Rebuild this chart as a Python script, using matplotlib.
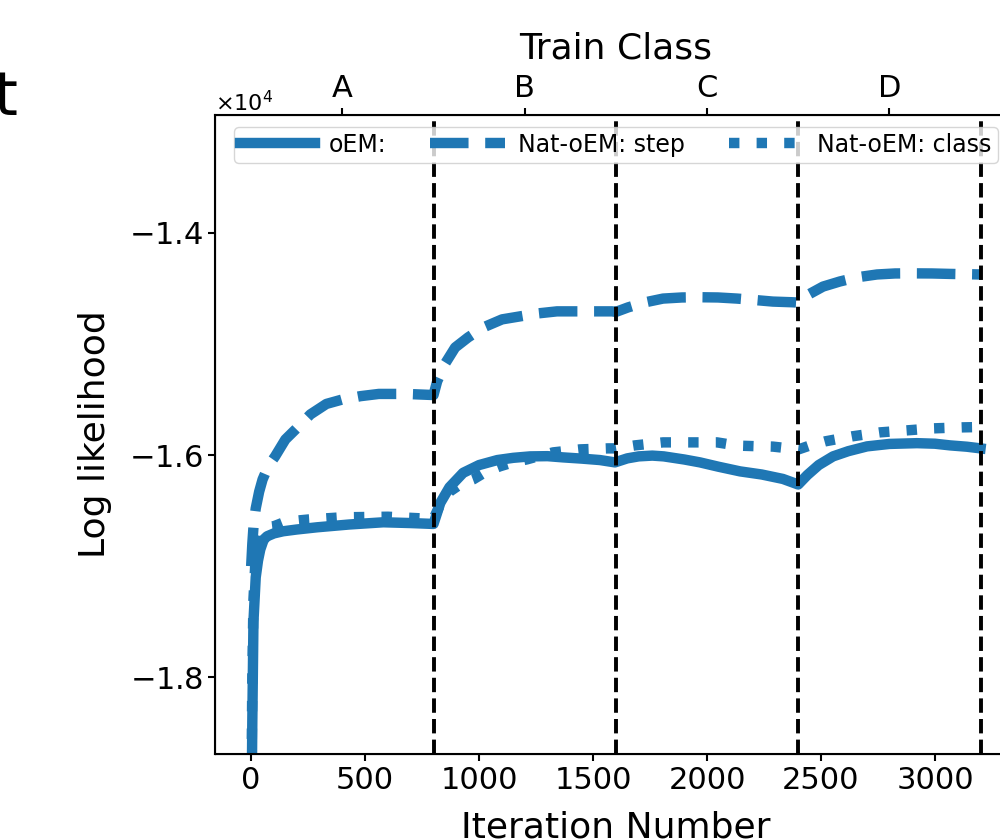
import matplotlib
matplotlib.use("Agg")
import matplotlib.pyplot as plt

plt.rcParams['font.family'] = ['DejaVu Sans']

# Data
oem_x = [0, 5, 10, 20, 30, 40, 55, 70, 100, 140, 200, 290, 430, 580, 700, 800,
         830, 870, 930, 1000, 1080, 1150, 1224, 1300, 1368, 1450, 1530, 1596,
         1650, 1700, 1760, 1810, 1900, 1969, 2050, 2145, 2240, 2333, 2400,
         2440, 2490, 2553, 2620, 2702, 2800, 2921, 3000, 3066, 3140, 3200]
oem_y = [-19600, -18400, -17500, -17100, -16950, -16850, -16760, -16731, -16705, -16686,
         -16670, -16650, -16625, -16605, -16612, -16620,
         -16430, -16290, -16160, -16090, -16045, -16025, -16012, -16010, -16021, -16032,
         -16045, -16066,
         -16030, -16012, -16005, -16012, -16040, -16066, -16105, -16147, -16175, -16215,
         -16265,
         -16180, -16090, -16012, -15965, -15922, -15900, -15893, -15898, -15913, -15925,
         -15940]

step_x = [0, 5, 10, 20, 35, 50, 75, 105, 150, 195, 260, 330, 400, 480, 560, 680, 800,
          816, 850, 895, 952, 1020, 1101, 1180, 1260, 1342, 1450, 1583, 1600,
          1654, 1730, 1807, 1890, 1970, 2048, 2132, 2210, 2289, 2373, 2400,
          2450, 2509, 2583, 2660, 2746, 2825, 2900, 2987, 3066, 3200]
step_y = [-17000, -16800, -16650, -16480, -16330, -16220, -16100, -16012, -15860, -15769,
          -15634, -15540, -15500, -15470, -15450, -15450, -15460,
          -15337, -15180, -15032, -14941, -14850, -14779, -14752, -14725, -14707, -14707,
          -14707, -14712,
          -14671, -14625, -14592, -14582, -14580, -14582, -14592, -14605, -14619, -14625,
          -14628,
          -14550, -14484, -14438, -14400, -14375, -14366, -14365, -14366, -14370, -14375]

class_x = [0, 5, 10, 20, 40, 60, 100, 150, 250, 400, 600, 800,
           830, 870, 920, 975, 1030, 1092, 1150, 1210, 1270, 1325, 1443, 1566, 1600,
           1684, 1807, 1925, 2044, 2132, 2210, 2289, 2360, 2400,
           2450, 2518, 2636, 2759, 2877, 2991, 3118, 3200]
class_y = [-19300, -18000, -17300, -16900, -16720, -16650, -16640, -16600, -16580, -16560,
           -16555, -16575,
           -16440, -16330, -16260, -16218, -16150, -16101, -16065, -16039, -16005, -15976,
           -15949, -15940, -15940,
           -15913, -15886, -15886, -15886, -15915, -15920, -15924, -15940, -15950,
           -15915, -15877, -15832, -15796, -15778, -15760, -15751, -15748]

boundaries = [800, 1600, 2400, 3200]
class_centers = [400, 1200, 2000, 2800]
class_names = ["A", "B", "C", "D"]
x_ticks = [0, 500, 1000, 1500, 2000, 2500, 3000]
y_ticks = [-18000, -16000, -14000]

blue = "#1f77b4"

fig = plt.figure(figsize=(10, 8.4), dpi=100)
ax = fig.add_axes([0.2147, 0.1024, 0.8023, 0.7607])

ax.plot(oem_x, oem_y, color=blue, lw=7.5, linestyle="-", label="oEM:")
ax.plot(step_x, step_y, color=blue, lw=7.5, linestyle="--", label="Nat-oEM: step")
ax.plot(class_x, class_y, color=blue, lw=7.5, linestyle=":", label="Nat-oEM: class")

for b in boundaries:
    ax.axvline(b, color="black", lw=2.8, linestyle="--")

ax.set_xlim(-160, 3360)
ax.set_ylim(-18690, -12940)
ax.set_xticks(x_ticks)
ax.set_yticks(y_ticks)
ax.ticklabel_format(axis="y", style="sci", scilimits=(0, 0), useMathText=True)
ax.tick_params(labelsize=22, length=5, width=1.5)
ax.yaxis.get_offset_text().set_fontsize(16)
for s in ax.spines.values():
    s.set_linewidth(1.5)

ax.set_xlabel("Iteration Number", fontsize=26)
ax.set_ylabel("Log likelihood", fontsize=26)
ax.xaxis.set_label_coords(0.5, -0.088)
ax.yaxis.set_label_coords(-0.128, 0.5)

ax.legend(loc="upper center", ncol=3, fontsize=17, handlelength=3.2,
          handletextpad=0.55, columnspacing=1.85, borderpad=0.25)

# top axis with the train classes
ax2 = ax.twiny()
ax2.set_xlim(ax.get_xlim())
ax2.set_xticks(class_centers)
ax2.set_xticklabels(class_names)
ax2.tick_params(labelsize=22, length=5, width=1.5)
ax2.set_xlabel("Train Class", fontsize=26)
ax2.xaxis.set_label_coords(0.5, 1.089)

fig.text(0.017, 0.863, "t", ha="right", va="baseline", fontsize=44)

fig.savefig("out.png", dpi=100)
